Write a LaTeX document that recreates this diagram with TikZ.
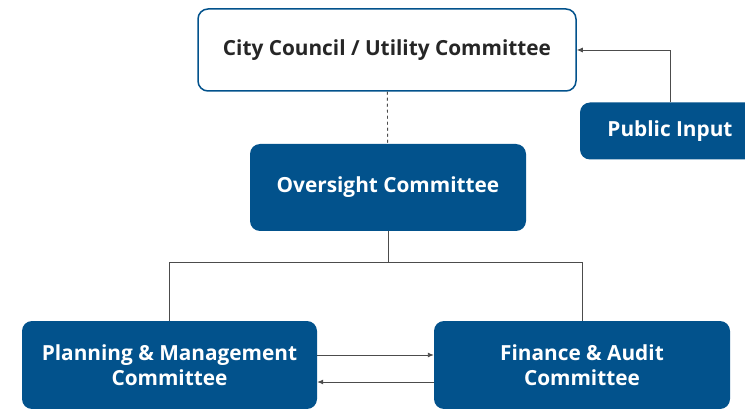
\documentclass[tikz,border=0pt]{standalone}
\usepackage{fontspec}
\setmainfont{Open Sans}
\usetikzlibrary{arrows.meta}
\definecolor{cityblue}{RGB}{2,82,140}
\begin{document}
\begin{tikzpicture}
  [x=1pt,y=-1pt,
   every node/.style={rounded corners=10pt,align=center,font=\bfseries\fontsize{20.8}{25}\selectfont},
   unit/.style={fill=cityblue,text=white},
   council/.style={draw=cityblue,line width=1.5pt,fill=white,text=black!85},
   link/.style={draw=black!70,line width=0.9pt},
   flow/.style={link,-{Latex[length=6pt,width=5pt]}}]
  \clip (0,0) rectangle (745,409);
  \node (cc)[council,minimum width=378pt,minimum height=82pt] at (387,50) {City Council / Utility Committee};
  \node (pi)[unit,minimum width=180pt,minimum height=57pt] at (670,131) {Public Input};
  \node (oc)[unit,minimum width=276pt,minimum height=87pt] at (388,187.5) {Oversight Committee};
  \node (pm)[unit,minimum width=295pt,minimum height=88pt] at (169.5,365) {Planning \& Management\\Committee};
  \node (fa)[unit,minimum width=296pt,minimum height=88pt] at (582,365) {Finance \& Audit\\Committee};

  \coordinate (split) at (388,262);
  \draw[link,dashed] (cc) -- (oc);
  \draw[flow] (pi.north) |- (cc.east);
  \draw[link] (oc.south) -- (split);
  \draw[link] (split) -| (pm.north);
  \draw[link] (split) -| (fa.north);
  \draw[flow] (pm.east |- 0,355) -- (fa.west |- 0,355);
  \draw[flow] (fa.west |- 0,382) -- (pm.east |- 0,382);

\end{tikzpicture}
\end{document}
